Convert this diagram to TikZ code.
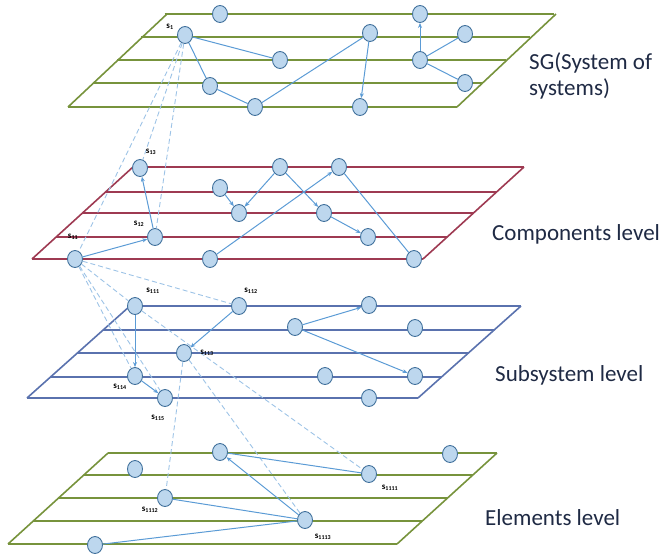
\documentclass[tikz,border=0pt]{standalone}
\usepackage{fontspec}
\setmainfont{Carlito}
\usetikzlibrary{shapes.geometric,arrows.meta}
\definecolor{gr}{HTML}{77933C}
\definecolor{rd}{HTML}{9E3A52}
\definecolor{bl}{HTML}{5A72AE}
\definecolor{nfill}{HTML}{BDD7EE}
\definecolor{ndraw}{HTML}{41719C}
\definecolor{edg}{HTML}{5B9BD5}
\definecolor{dsh}{HTML}{9DC3E6}
\definecolor{txt}{HTML}{1F2A44}
\tikzset{
  nd/.style={ellipse,draw=ndraw,fill=nfill,line width=0.9pt,minimum width=15pt,minimum height=17pt,inner sep=0pt},
  pl/.style={line width=1.6pt},
  ln/.style={draw=edg,line width=1pt},
  ar/.style={ln,-{Stealth[length=5pt,width=4pt]}},
  dl/.style={draw=dsh,line width=0.9pt,dash pattern=on 5pt off 3pt},
  lbl/.style={font=\fontsize{9}{10}\selectfont\bfseries,inner sep=0pt,text=black},
  lev/.style={font=\fontsize{23}{26}\selectfont,text=txt,anchor=west,align=left,inner sep=0pt}
}
\begin{document}
\begin{tikzpicture}[x=1pt,y=-1pt]
\useasboundingbox (0,0) rectangle (668,557);
% planes
\foreach \y in {14,37,60,83,107} \draw[gr,pl] ({68+(107-\y)*1.04},\y) -- ({457+(107-\y)*1.04},\y);
\draw[gr,pl] (167,14) -- (68,107); \draw[gr,pl] (556,14) -- (457,107);
\foreach \y in {167,192,213,237,259} \draw[rd,pl] ({32+(259-\y)*1.098},\y) -- ({423+(259-\y)*1.098},\y);
\draw[rd,pl] (133,167) -- (32,259); \draw[rd,pl] (524,167) -- (423,259);
\foreach \y in {306,330,353,377,398} \draw[bl,pl] ({27+(398-\y)*1.12},\y) -- ({418+(398-\y)*1.12},\y);
\draw[bl,pl] (130,306) -- (27,398); \draw[bl,pl] (521,306) -- (418,398);
\foreach \y in {453,475,498,521,544} \draw[gr,pl] ({8+(544-\y)*1.1},\y) -- ({397+(544-\y)*1.1},\y);
\draw[gr,pl] (108,453) -- (8,544); \draw[gr,pl] (497,453) -- (397,544);

% top level nodes
\node[nd] (t1) at (220,14) {};
\node[nd] (t2) at (420,14) {};
\node[nd] (s1) at (185,35) {};
\node[nd] (t4) at (370,33) {};
\node[nd] (t5) at (465,34) {};
\node[nd] (t6) at (280,60) {};
\node[nd] (t7) at (420,60) {};
\node[nd] (t8) at (210,86) {};
\node[nd] (t9) at (465,83) {};
\node[nd] (t10) at (255,107) {};
\node[nd] (t11) at (360,107) {};
% components
\node[nd] (c1) at (140,168) {};
\node[nd] (c2) at (280,167) {};
\node[nd] (c3) at (339,167) {};
\node[nd] (c4) at (220,188) {};
\node[nd] (c5) at (239,213) {};
\node[nd] (c6) at (324,213) {};
\node[nd] (c7) at (155,237) {};
\node[nd] (c8) at (368,237) {};
\node[nd] (c9) at (75,259) {};
\node[nd] (c10) at (210,259) {};
\node[nd] (c11) at (414,259) {};
% subsystems
\node[nd] (b1) at (135,306) {};
\node[nd] (b2) at (239,306) {};
\node[nd] (b3) at (369,305) {};
\node[nd] (b4) at (295,327) {};
\node[nd] (b5) at (415,328) {};
\node[nd] (b6) at (184,353) {};
\node[nd] (b7) at (135,376) {};
\node[nd] (b8) at (325,376) {};
\node[nd] (b9) at (415,376) {};
\node[nd] (b10) at (165,398) {};
\node[nd] (b11) at (369,398) {};
% elements
\node[nd] (e1) at (220,452) {};
\node[nd] (e2) at (450,454) {};
\node[nd] (e3) at (135,469) {};
\node[nd] (e4) at (369,474) {};
\node[nd] (e5) at (165,498) {};
\node[nd] (e6) at (305,520) {};
\node[nd] (e7) at (95,545) {};

% dashed inter-level links
\draw[dl] (s1) -- (c9);
\draw[dl] (s1) -- (c1);
\draw[dl] (s1) -- (c7);
\draw[dl] (c9) -- (b2);
\draw[dl] (c9) -- (b1);
\draw[dl] (c9) -- (b7);
\draw[dl] (c9) -- (b10);
\draw[dl] (b1) -- (e4);
\draw[dl] (b6) -- (e6);
\draw[dl] (b6) -- (e5);

% top edges
\draw[ln] (s1) -- (t6);
\draw[ln] (s1) -- (t8);
\draw[ln] (t8) -- (t10);
\draw[ln] (t10) -- (t4);
\draw[ar] (t4) -- (t11);
\draw[ar] (t7) -- (t2);
\draw[ln] (t7) -- (t5);
\draw[ln] (t7) -- (t9);
% component edges
\draw[ar] (c9) -- (c7);
\draw[ar] (c7) -- (c1);
\draw[ar] (c4) -- (c5);
\draw[ar] (c2) -- (c5);
\draw[ar] (c2) -- (c6);
\draw[ar] (c6) -- (c8);
\draw[ar] (c10) -- (c3);
\draw[ln] (c3) -- (c11);
% subsystem edges
\draw[ar] (b1) -- (b7);
\draw[ar] (b7) -- (b10);
\draw[ar] (b2) -- (b6);
\draw[ar] (b4) -- (b3);
\draw[ar] (b4) -- (b9);
% element edges
\draw[ar] (e6) -- (e1);
\draw[ln] (e1) -- (e4);
\draw[ln] (e5) -- (e6);
\draw[ln] (e7) -- (e6);

% small labels
\node[lbl] (ls1) at (170,27) {s\textsubscript{1}};
\node[lbl] (lc1) at (151,152) {s\textsubscript{13}};
\node[lbl] (lc7) at (139,224) {s\textsubscript{12}};
\node[lbl] (lc9) at (73,237) {s\textsubscript{11}};
\node[lbl] (lb1) at (153,291) {s\textsubscript{111}};
\node[lbl] (lb2) at (251,291) {s\textsubscript{112}};
\node[lbl] (lb6) at (207,353) {s\textsubscript{113}};
\node[lbl] (lb7) at (120,387) {s\textsubscript{114}};
\node[lbl] (lb10) at (158,418) {s\textsubscript{115}};
\node[lbl] (le4) at (390,488) {s\textsubscript{1111}};
\node[lbl] (le5) at (150,510) {s\textsubscript{1112}};
\node[lbl] (le6) at (323,537) {s\textsubscript{1113}};

% level texts
\node[lev] (tsg) at (529,76) {SG(System of\\systems)};
\node[lev] (tcomp) at (492,234) {Components level};
\node[lev] (tsub) at (495,375) {Subsystem level};
\node[lev] (tel) at (485,518) {Elements level};
\end{tikzpicture}
\end{document}
